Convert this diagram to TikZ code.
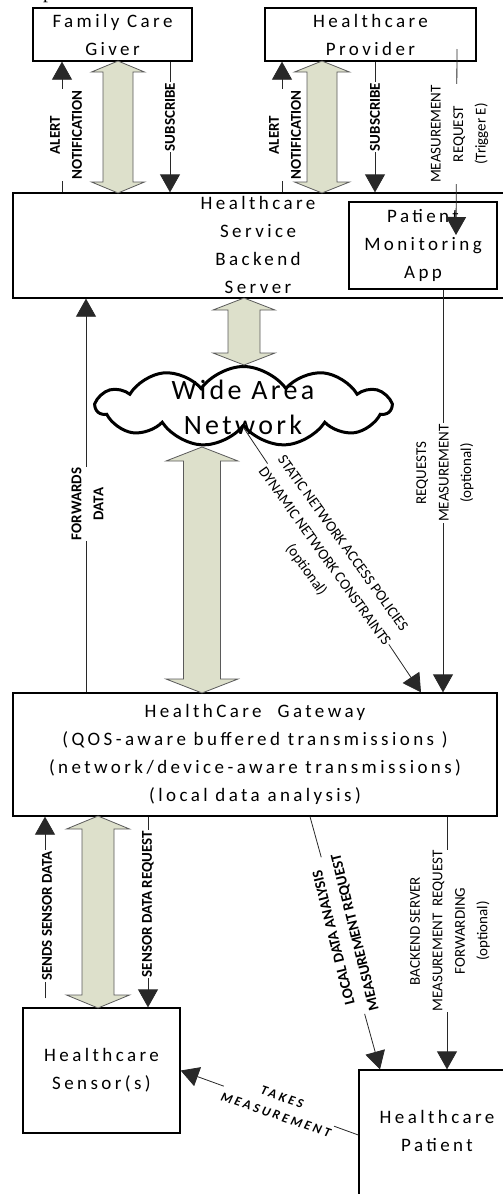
\documentclass[tikz,border=0pt]{standalone}
\usepackage{fontspec}
\setmainfont{Carlito}
\newfontfamily\boxfont[LetterSpace=18]{Carlito}
\newfontfamily\cloudfont[LetterSpace=12]{Carlito}
\newfontfamily\takesfont[LetterSpace=22]{Carlito}
\newfontfamily\pfont{Liberation Serif}
\usetikzlibrary{arrows.meta,shapes.symbols}
\definecolor{fatfill}{RGB}{221,224,203}
\definecolor{fatline}{RGB}{90,90,90}
\definecolor{conline}{RGB}{40,40,40}
\newcommand{\fatarr}[6]{%
  \filldraw[fat] (#1,#2) -- (#1+#4,#2+#6) -- (#1+#5,#2+#6) -- (#1+#5,#3-#6) -- (#1+#4,#3-#6) -- (#1,#3)
   -- (#1-#4,#3-#6) -- (#1-#5,#3-#6) -- (#1-#5,#2+#6) -- (#1-#4,#2+#6) -- cycle;}
\begin{document}
\begin{tikzpicture}[x=1pt,y=-1pt,
 box/.style={draw=black, line width=1.3pt, rectangle, inner sep=0pt, align=center, font=\boxfont\fontsize{19}{28}\selectfont},
 btext/.style={inner sep=0pt, align=center, font=\boxfont\fontsize{19}{28}\selectfont},
 conn/.style={draw=conline, line width=0.8pt, -{Triangle[width=20pt,length=18pt]}},
 blab/.style={fill=white, inner sep=1pt, align=center, font=\fontsize{15}{22}\selectfont\bfseries},
 nlab/.style={fill=white, inner sep=1pt, align=center, font=\fontsize{15}{22.5}\selectfont},
 fat/.style={fill=fatfill, draw=fatline, line width=0.8pt, line join=miter}]
\useasboundingbox (0,0) rectangle (503,1194);
\clip (0,0) rectangle (503,1194);

% partial glyph at top edge
\node[font=\pfont\fontsize{20}{20}\selectfont, anchor=base west, inner sep=0pt] (pp) at (43,-2) {p};

% boxes
\node[box, minimum width=159pt, minimum height=53pt] (fam) at (112.5,34.5) {Family Care\\Giver};
\node[box, minimum width=211pt, minimum height=53pt] (prov) at (370.5,34.5) {Healthcare\\Provider};
\node[box, minimum width=497pt, minimum height=105pt] (bk) at (261.5,245.5) {};
\node[btext] (bkt) at (258,245) {Healthcare\\Service\\Backend\\Server};
\node[box, minimum width=148pt, minimum height=87pt] (app) at (423,245.5) {Patient\\Monitoring\\App};
\node[cloud, draw=black, line width=3pt, cloud puffs=11, cloud puff arc=110, cloud ignores aspect,
      minimum width=294pt, minimum height=80pt, inner sep=0pt] (cl) at (243.5,406.5) {};
\node[inner sep=0pt, align=center, font=\cloudfont\fontsize{28}{35}\selectfont] (wan) at (243,407) {Wide Area\\Network};
\node[box, minimum width=484pt, minimum height=123pt] (gw) at (255,754.5)
  {HealthCare\hspace{16pt}Gateway\\(QOS-aware buffered transmissions )\\(network/device-aware transmissions)\\(local data analysis)};
\node[box, minimum width=157pt, minimum height=125pt] (sen) at (101.5,1070.5) {Healthcare\\Sensor(s)};
\node[box, minimum width=156pt, minimum height=130pt] (pat) at (437,1135) {};
\node[btext] (patt) at (437,1131) {Healthcare\\Patient};

% connectors
\draw[conn] (62,0 |- bk.north) -- (62,0 |- fam.south);
\draw[conn] (170,0 |- fam.south) -- (170,0 |- bk.north);
\draw[conn] (282,0 |- bk.north) -- (282,0 |- prov.south);
\draw[conn] (375,0 |- prov.south) -- (375,0 |- bk.north);
\coordinate (mrqs) at (457,49);
\coordinate (mrqe) at (456,235);
\draw[conn] (mrqs) -- (mrqe);
\draw[conn] (443,0 |- app.south) -- (443,0 |- gw.north);
\draw[conn] (86,0 |- gw.north) -- (86,0 |- bk.south);
\draw[conn] (cl.south) -- (421,0 |- gw.north);
\draw[conn, shorten <=9pt] (45,0 |- sen.north) -- (45,0 |- gw.south);
\draw[conn] (148,0 |- gw.south) -- (148,0 |- sen.north);
\draw[conn] (310,0 |- gw.south) -- (380,0 |- pat.north);
\draw[conn] (447,0 |- gw.south) -- (447,0 |- pat.north);
\draw[conn] (pat.west) -- (sen.east);

% labels
\node[blab, rotate=90] (l1) at (66,135) {ALERT\\NOTIFICATION};
\node[blab, rotate=90] (l2) at (170,117) {SUBSCRIBE};
\node[blab, rotate=90] (l3) at (285,135) {ALERT\\NOTIFICATION};
\node[blab, rotate=90] (l4) at (375,117) {SUBSCRIBE};
\node[nlab, rotate=90] (l5) at (459.5,134) {MEASUREMENT\\REQUEST\\(Trigger E)};
\node[nlab, rotate=90] (l6) at (445,473) {REQUESTS\\MEASUREMENT\\(optional)};
\node[blab, rotate=90] (l7) at (87.5,504) {FORWARDS\\DATA};
\node[nlab, rotate=-54.3] (l8) at (324,557) {STATIC NETWORK ACCESS POLICIES\\DYNAMIC NETWORK CONSTRAINTS\\(optional)};
\node[blab, rotate=90] (l9) at (47,916) {SENDS SENSOR DATA};
\node[blab, rotate=90] (l10) at (148,904) {SENSOR DATA REQUEST};
\node[blab, rotate=104] (l11) at (345,935) {LOCAL DATA ANALYSIS\\MEASUREMENT REQUEST};
\node[nlab, rotate=90] (l12) at (450,931) {BACKEND SERVER\\MEASUREMENT\ \ REQUEST\\FORWARDING\\(optional)};
\node[fill=white, inner sep=1pt, align=center, rotate=-19, font=\takesfont\fontsize{13}{19}\selectfont\bfseries\itshape] (l13) at (279,1106) {TAKES\\MEASUREMENT};

% fat double arrows
\fatarr{118}{61}{193}{26.5}{15}{11}
\fatarr{322}{61}{193}{27.5}{15}{11}
\fatarr{244}{298}{365}{31}{16}{12}
\fatarr{202}{447}{693}{36}{18.5}{14}
\fatarr{98}{816}{1008}{31.5}{16}{13}
\end{tikzpicture}
\end{document}
